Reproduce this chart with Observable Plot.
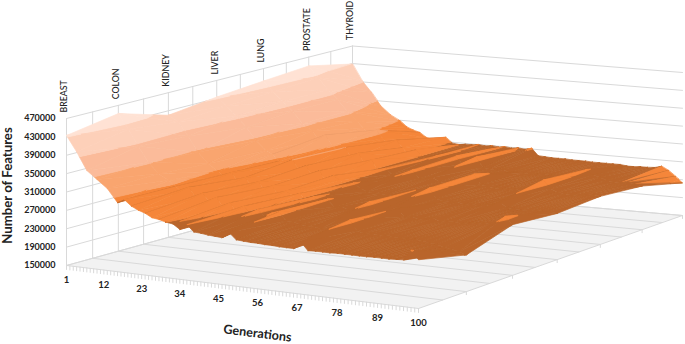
<!DOCTYPE html>
<html><head><meta charset="utf-8">
<style>html,body{margin:0;padding:0;background:#fff;overflow:hidden}svg{display:block}</style>
<script src="https://cdn.jsdelivr.net/npm/d3@7"></script>
<script src="https://cdn.jsdelivr.net/npm/@observablehq/plot@0.6"></script>
</head><body><div id="c"></div>
<script>
const categories = ["BREAST","COLON","KIDNEY","LIVER","LUNG","PROSTATE","THYROID"];
const genTicks = [1,12,23,34,45,56,67,78,89,100];
const valueTicks = [150000,190000,230000,270000,310000,350000,390000,430000,470000];
const generations = [1,4,7,10,13,16,18,20,22,24,26,28,30,32,34,36,38,40,42,44,46,48,50,52,54,56,58,60,62,64,66,68,70,72,74,76,78,80,82,84,86,88,90,92,94,96,98,100];
// values in thousands of features
const BREAST = [433,400,362,345,328,300,308,296,289,284,276,274,270,268,258,270,256,255,253,252,251,264,250,249,248,248,247,247,246,246,246,262,245,246,246,246,247,247,247,247,247,248,248,248,249,250,272,254];
const COLON = [452,420,385,352,330,318,306,296,308,286,298,280,292,272,284,262,280,262,276,260,272,276,258,258,254,252,252,250,252,250,250,276,254,250,252,250,252,250,248,250,250,248,246,244,240,238,234,229];
const KIDNEY = [420,408,378,345,322,308,296,308,288,300,282,294,274,288,266,280,272,278,264,274,262,272,256,260,254,254,252,276,254,252,252,268,252,254,250,252,256,250,252,252,250,252,254,256,258,262,276,260];
const LIVER = [433,415,395,372,345,325,318,304,296,310,286,300,276,292,268,284,276,262,272,262,256,254,254,254,253,254,252,270,252,278,256,252,252,254,250,252,250,254,252,264,252,252,250,250,252,253,254,251];
const LUNG = [442,420,400,380,355,340,322,334,312,298,310,286,300,274,288,262,272,260,258,254,274,256,258,262,254,252,254,252,254,278,256,254,252,250,252,254,250,254,254,280,262,256,254,252,254,257,258,256];
const PROSTATE = [450,425,400,380,355,335,320,306,318,300,288,300,284,266,282,268,262,272,262,260,276,258,256,278,256,254,252,256,250,254,252,250,252,254,252,250,254,252,252,272,262,258,252,250,250,252,250,247];
const THYROID = [429,393,368,338,320,308,296,290,286,276,272,274,280,268,266,268,268,270,268,270,268,270,268,270,268,272,256,255,254,254,254,253,253,253,252,252,252,252,252,250,250,251,251,252,256,248,236,223];
const series = [BREAST,COLON,KIDNEY,LIVER,LUNG,PROSTATE,THYROID];
const bandColors = ["#B9652B","#B9652B","#B9652B","#F5863A","#F9A56F","#FBBB9A","#FDD0B9","#FFE2D4"];

// view of the 3D box
const corner = {A:[66,265],B:[418,308],C:[682,215],D:[352,186]};
const rise = {A:147,B:150,C:143,D:140.5};
const bl = (a,b,c,d,u,v)=>a*(1-u)*(1-v)+b*u*(1-v)+c*u*v+d*(1-u)*v;
function project(gen,cat,value){
  let u=(gen-1)/99, v=cat/6;
  u=.95*u/(1-.05*u); v=1.107*v/(1+.107*v);
  const x=bl(corner.A[0],corner.B[0],corner.C[0],corner.D[0],u,v);
  const y=bl(corner.A[1],corner.B[1],corner.C[1],corner.D[1],u,v);
  const k=bl(rise.A,rise.B,rise.C,rise.D,u,v);
  return [x, y-(value-150000)/320000*k];
}
const grid=[], tick=[], panels=[];
let id=0;
function seg(a,b,arr=grid){id++;arr.push({x:a[0],y:a[1],id},{x:b[0],y:b[1],id});}
function panel(list,color){id++;for(const p of list)panels.push({x:p[0],y:p[1],id,color});}
const Z0=150000,Z1=470000;
panel([project(1,0,Z0),project(1,0,Z1),project(1,6,Z1),project(100,6,Z1),project(100,6,Z0),project(1,6,Z0)],"#FFFFFF");
panel([project(1,0,Z0),project(100,0,Z0),project(100,6,Z0),project(1,6,Z0)],"#F2F2F2");
for(const z of valueTicks){
  seg(project(1,0,z),project(1,6,z));
  seg(project(1,6,z),project(100,6,z));
}
for(let i=0;i<=12;i++){
  const c=i/2;
  seg(project(1,c,Z0),project(1,c,Z1));
  seg(project(1,c,Z0),project(100,c,Z0));
}
seg(project(1,0,Z0),project(1,6,Z0));
seg(project(100,0,Z0),project(100,6,Z0));
for(let g=1;g<=100;g++){const p=project(g,0,Z0);seg(p,[p[0],p[1]+4],tick);}
for(let c=0;c<=6;c++){const p=project(100,c,Z0);seg(p,[p[0],p[1]+3],tick);}

// surface split into triangles and value bands, far to near
const poly=[];
const area=(a,b,c)=>(b[0]-a[0])*(c[1]-a[1])-(c[0]-a[0])*(b[1]-a[1]);
function clipBand(tri,lo,hi){
  const cut=(pts,test,lim)=>{const out=[];
    for(let i=0;i<pts.length;i++){const p=pts[i],q=pts[(i+1)%pts.length];
      const a=test(p[2]),b=test(q[2]);
      if(a)out.push(p);
      if(a!==b){const t=(lim-p[2])/(q[2]-p[2]);out.push([p[0]+t*(q[0]-p[0]),p[1]+t*(q[1]-p[1]),lim]);}
    }return out;};
  return cut(cut(tri,z=>z>=lo,lo),z=>z<=hi,hi);
}
function addTri(vs){
  const pts=vs.map(([g,c])=>{const z=series[c][g]*1000;const p=project(generations[g],c,z);return [p[0],p[1],z];});
  const fl=vs.map(([g,c])=>project(generations[g],c,Z0));
  const ratio=area(...pts)/area(...fl);
  const back=ratio<0;
  const top=Math.max(pts[0][2],pts[1][2],pts[2][2]);
  for(let b=0;b<bandColors.length;b++){
    const part=clipBand(pts,valueTicks[b],valueTicks[b+1]);
    if(part.length<3)continue;
    let col=bandColors[b];
    if(b<3&&ratio>2.3&&top<260000)col=bandColors[3];
    if(back)col=b<3?col:d3.color(bandColors[b]).darker(b==3?.7:.45).formatHex();
    id++;for(const p of part)poly.push({x:p[0],y:p[1],id,color:col});
  }
}
for(let g=0;g<generations.length-1;g++){
  for(let c=5;c>=0;c--){
    addTri([[g,c+1],[g,c],[g+1,c+1]]);
    addTri([[g,c],[g+1,c],[g+1,c+1]]);
  }
}
const font="Lato, 'Open Sans', sans-serif";
const chart=Plot.plot({
  width:685,height:344,margin:0,
  x:{domain:[0,685],range:[0,685],axis:null},
  y:{domain:[0,344],range:[0,344],axis:null},
  color:{type:"identity"},
  style:{background:"#fff"},
  marks:[
    Plot.line(panels,{x:"x",y:"y",z:"id",fill:d=>d.color,stroke:"none",curve:"linear-closed"}),
    Plot.line(grid,{x:"x",y:"y",z:"id",stroke:"#D9D9D9",strokeWidth:1}),
    Plot.line(tick,{x:"x",y:"y",z:"id",stroke:"#D9D9D9",strokeWidth:1}),
    Plot.line(poly,{x:"x",y:"y",z:"id",fill:d=>d.color,stroke:d=>d.color,strokeWidth:.7,strokeOpacity:1,curve:"linear-closed"}),
    Plot.text(valueTicks,{x:d=>project(1,0,d)[0]-11,y:d=>project(1,0,d)[1],text:d=>String(d),textAnchor:"end",fontFamily:font,fontSize:9,fontWeight:700,fill:"#222"}),
    Plot.text(genTicks,{x:d=>project(d,0,Z0)[0],y:d=>project(d,0,Z0)[1]+14.5,text:d=>String(d),fontFamily:font,fontSize:9.5,fontWeight:700,fill:"#222"}),
    Plot.text(categories,{x:(d,i)=>project(1,i,Z1)[0]-2,y:(d,i)=>project(1,i,Z1)[1]-6,text:d=>d,rotate:-90,textAnchor:"start",fontFamily:font,fontSize:8.8,fontWeight:500,fill:"#222"}),
    Plot.text(["Number of Features"],{x:()=>7,y:()=>185,text:d=>d,rotate:-90,fontFamily:font,fontSize:13.2,fontWeight:700,fill:"#222"}),
    Plot.text(["Generations"],{x:()=>257,y:()=>333,text:d=>d,rotate:7,fontFamily:font,fontSize:12.6,fontWeight:700,fill:"#222"})
  ]
});
document.getElementById("c").appendChild(chart);
</script></body></html>
